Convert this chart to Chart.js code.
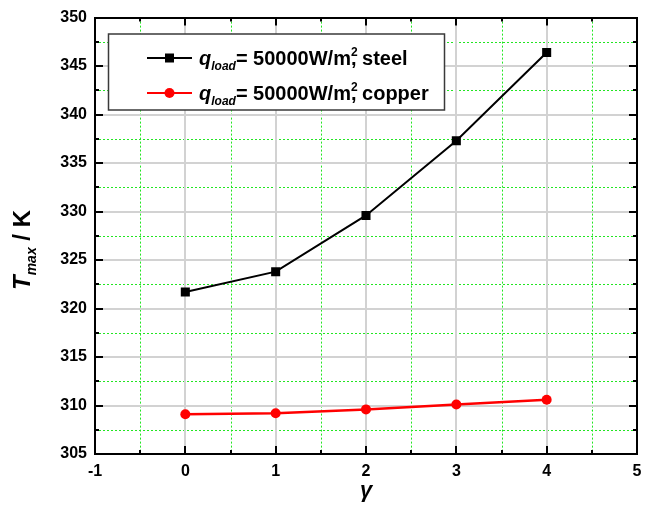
<!DOCTYPE html>
<html>
<head>
<meta charset="utf-8">
<script src="https://cdn.jsdelivr.net/npm/chart.js@4.4.0/dist/chart.umd.min.js"></script>
<style>
  html, body { margin: 0; padding: 0; background: #fff; }
  #wrap { width: 650px; height: 505px; }
</style>
</head>
<body>
<div id="wrap"><canvas id="chart" width="650" height="505"></canvas></div>
<script>
// values
var gammaValues = [0, 1, 2, 3, 4];
var steelTmax   = [321.7, 323.8, 329.6, 337.3, 346.4];
var copperTmax  = [309.1, 309.2, 309.6, 310.1, 310.6];
var xTickLabels = [-1, 0, 1, 2, 3, 4, 5];
var yTickLabels = [305, 310, 315, 320, 325, 330, 335, 340, 345, 350];

var FONT = "'Liberation Sans', Arial, sans-serif";

function toPoints(xs, ys) {
  return xs.map(function (x, i) { return { x: x, y: ys[i] }; });
}

// draws a run of text pieces (normal / sub / sup), returns width
function richText(ctx, parts, x, y, measureOnly) {
  var cx = x;
  parts.forEach(function (p) {
    ctx.font = p.font;
    var w = ctx.measureText(p.text).width;
    if (!measureOnly) ctx.fillText(p.text, cx, y + (p.dy || 0));
    if (!p.noAdvance) cx += w;
  });
  return cx - x;
}

function legendParts(material) {
  return [
    { text: 'q', font: 'italic bold 20px ' + FONT },
    { text: 'load', font: 'italic bold 12px ' + FONT, dy: 5 },
    { text: '= 50000W/m', font: 'bold 20px ' + FONT },
    { text: '2', font: 'bold 12px ' + FONT, dy: -9, noAdvance: true },
    { text: ', ' + material, font: 'bold 20px ' + FONT }
  ];
}

var decor = {
  id: 'decor',
  beforeDatasetsDraw: function (chart) {
    var ctx = chart.ctx, a = chart.chartArea;
    var xs = chart.scales.x, ys = chart.scales.y;
    ctx.save();
    // minor grid: green dotted
    ctx.strokeStyle = '#22e622';
    ctx.lineWidth = 1;
    ctx.setLineDash([2, 2]);
    xs.ticks.forEach(function (t) {
      if (xTickLabels.indexOf(t.value) >= 0) return;
      var p = Math.round(xs.getPixelForValue(t.value)) + 0.5;
      ctx.beginPath(); ctx.moveTo(p, a.top); ctx.lineTo(p, a.bottom); ctx.stroke();
    });
    ys.ticks.forEach(function (t) {
      if (yTickLabels.indexOf(t.value) >= 0) return;
      var p = Math.round(ys.getPixelForValue(t.value)) + 0.5;
      ctx.beginPath(); ctx.moveTo(a.left, p); ctx.lineTo(a.right, p); ctx.stroke();
    });
    // major grid: light grey solid
    ctx.setLineDash([]);
    ctx.strokeStyle = '#d2d2d2';
    ctx.lineWidth = 2;
    xs.ticks.forEach(function (t) {
      if (xTickLabels.indexOf(t.value) < 0) return;
      var p = Math.round(xs.getPixelForValue(t.value));
      ctx.beginPath(); ctx.moveTo(p, a.top); ctx.lineTo(p, a.bottom); ctx.stroke();
    });
    ys.ticks.forEach(function (t) {
      if (yTickLabels.indexOf(t.value) < 0) return;
      var p = Math.round(ys.getPixelForValue(t.value));
      ctx.beginPath(); ctx.moveTo(a.left, p); ctx.lineTo(a.right, p); ctx.stroke();
    });
    ctx.restore();
  },
  afterDraw: function (chart) {
    var ctx = chart.ctx, a = chart.chartArea;
    var xs = chart.scales.x, ys = chart.scales.y;
    ctx.save();
    // inward ticks on all four sides
    ctx.strokeStyle = '#000';
    ctx.lineWidth = 2;
    xs.ticks.forEach(function (t) {
      var len = xTickLabels.indexOf(t.value) >= 0 ? 8 : 4;
      var p = Math.round(xs.getPixelForValue(t.value));
      ctx.beginPath();
      ctx.moveTo(p, a.bottom); ctx.lineTo(p, a.bottom - len);
      ctx.moveTo(p, a.top); ctx.lineTo(p, a.top + len);
      ctx.stroke();
    });
    ys.ticks.forEach(function (t) {
      var len = yTickLabels.indexOf(t.value) >= 0 ? 8 : 4;
      var p = Math.round(ys.getPixelForValue(t.value));
      ctx.beginPath();
      ctx.moveTo(a.left, p); ctx.lineTo(a.left + len, p);
      ctx.moveTo(a.right, p); ctx.lineTo(a.right - len, p);
      ctx.stroke();
    });
    // frame
    ctx.strokeRect(Math.round(a.left), Math.round(a.top),
      Math.round(a.right) - Math.round(a.left), Math.round(a.bottom) - Math.round(a.top));

    // legend
    var lx = 108.5, ly = 34, lw = 336, lh = 76;
    ctx.fillStyle = '#fff';
    ctx.fillRect(lx, ly, lw, lh);
    ctx.strokeStyle = '#3a3a3a';
    ctx.lineWidth = 1.5;
    ctx.strokeRect(lx, ly, lw, lh);
    var rows = [
      { y: 58, color: '#000', shape: 'rect', name: 'steel' },
      { y: 93, color: '#ff0000', shape: 'circle', name: 'copper' }
    ];
    rows.forEach(function (r) {
      ctx.strokeStyle = r.color;
      ctx.fillStyle = r.color;
      ctx.lineWidth = 2;
      ctx.beginPath(); ctx.moveTo(147, r.y); ctx.lineTo(192, r.y); ctx.stroke();
      if (r.shape === 'rect') {
        ctx.fillRect(165, r.y - 4.5, 9, 9);
      } else {
        ctx.beginPath(); ctx.arc(169.5, r.y, 5, 0, Math.PI * 2); ctx.fill();
      }
      ctx.fillStyle = '#000';
      ctx.textBaseline = 'alphabetic';
      ctx.textAlign = 'left';
      richText(ctx, legendParts(r.name), 199, r.y + 7);
    });

    // y axis title, rotated
    var yParts = [
      { text: 'T', font: 'italic bold 24px ' + FONT },
      { text: 'max', font: 'italic bold 14px ' + FONT, dy: 6 },
      { text: ' / K', font: 'bold 24px ' + FONT }
    ];
    ctx.save();
    ctx.translate(30, 250);
    ctx.rotate(-Math.PI / 2);
    ctx.fillStyle = '#000';
    var w = richText(ctx, yParts, 0, 0, true);
    richText(ctx, yParts, -w / 2, 0);
    ctx.restore();

    // x axis title
    ctx.fillStyle = '#000';
    ctx.font = 'italic bold 22px ' + FONT;
    ctx.textAlign = 'center';
    ctx.fillText('\u03b3', (a.left + a.right) / 2, 497);
    ctx.restore();
  }
};

var chart = new Chart(document.getElementById('chart'), {
  type: 'scatter',
  data: {
    datasets: [{
      label: 'steel',
      data: toPoints(gammaValues, steelTmax),
      showLine: true,
      borderColor: '#000',
      backgroundColor: '#000',
      borderWidth: 2,
      pointStyle: 'rect',
      pointRadius: 6.4,
      pointBorderWidth: 0
    }, {
      label: 'copper',
      data: toPoints(gammaValues, copperTmax),
      showLine: true,
      borderColor: '#ff0000',
      backgroundColor: '#ff0000',
      borderWidth: 2.5,
      pointStyle: 'circle',
      pointRadius: 5,
      pointBorderWidth: 0
    }]
  },
  options: {
    responsive: false,
    animation: false,
    layout: { padding: { top: 13, right: 13, left: 0, bottom: 0 } },
    plugins: { legend: { display: false }, tooltip: { enabled: false } },
    scales: {
      x: {
        type: 'linear',
        min: -1, max: 5,
        grid: { display: false, drawTicks: false },
        border: { display: false },
        afterFit: function (s) { s.height = 51; },
        ticks: {
          stepSize: 0.5, autoSkip: false, maxRotation: 0, padding: 8,
          color: '#000', font: { family: FONT, size: 16, weight: 'bold' },
          callback: function (v) { return xTickLabels.indexOf(v) >= 0 ? String(v) : ''; }
        }
      },
      y: {
        type: 'linear',
        min: 305, max: 350,
        grid: { display: false, drawTicks: false },
        border: { display: false },
        afterFit: function (s) { s.width = 95; },
        ticks: {
          stepSize: 2.5, autoSkip: false, padding: 8,
          color: '#000', font: { family: FONT, size: 16, weight: 'bold' },
          callback: function (v) { return yTickLabels.indexOf(v) >= 0 ? String(v) : ''; }
        }
      }
    }
  },
  plugins: [decor]
});
</script>
</body>
</html>
